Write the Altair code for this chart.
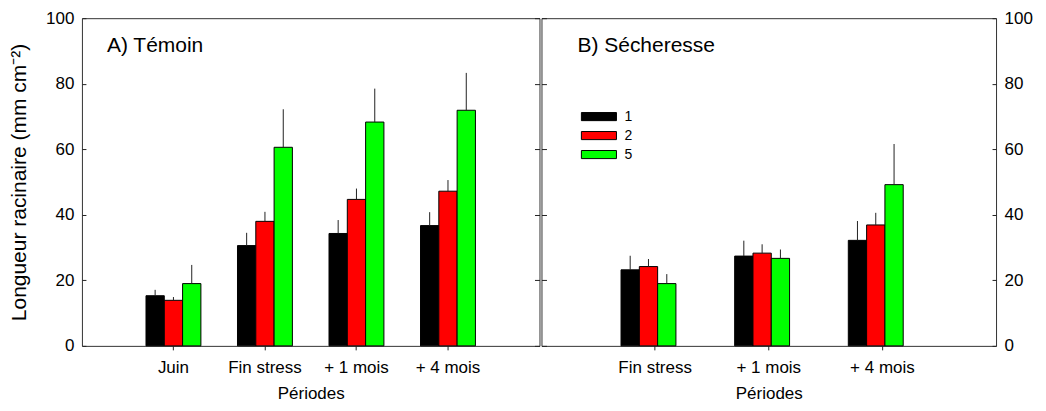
import altair as alt
import pandas as pd

# ---------------- data ----------------
groups = ["1", "2", "5"]
group_colors = ["#000000", "#ff0000", "#00ff00"]

periods_A = ["Juin", "Fin stress", "+ 1 mois", "+ 4 mois"]
A_mean_1 = [15.3, 30.6, 34.3, 36.7]
A_mean_2 = [13.9, 38.0, 44.7, 47.2]
A_mean_5 = [19.0, 60.6, 68.3, 71.9]
A_se_1 = [1.8, 3.9, 4.1, 4.1]
A_se_2 = [1.0, 2.9, 3.3, 3.4]
A_se_5 = [5.7, 11.6, 10.2, 11.4]

periods_B = ["Fin stress", "+ 1 mois", "+ 4 mois"]
B_mean_1 = [23.2, 27.4, 32.2]
B_mean_2 = [24.2, 28.3, 36.9]
B_mean_5 = [19.0, 26.7, 49.2]
B_se_1 = [4.3, 4.7, 5.9]
B_se_2 = [2.3, 2.7, 3.7]
B_se_5 = [2.9, 2.7, 12.4]

panel_titles = ["A) Témoin", "B) Sécheresse"]
y_title = "Longueur racinaire (mm cm⁻²)"
x_title = "Périodes"
y_ticks = [0, 20, 40, 60, 80, 100]

FONT = "Liberation Sans"


def make_frame(periods, means, ses):
    rows = []
    for g, m, s in zip(groups, means, ses):
        for p, mv, sv in zip(periods, m, s):
            rows.append({"periode": p, "groupe": g, "moyenne": mv, "haut": mv + sv})
    return pd.DataFrame(rows)


df_A = make_frame(periods_A, [A_mean_1, A_mean_2, A_mean_5], [A_se_1, A_se_2, A_se_5])
df_B = make_frame(periods_B, [B_mean_1, B_mean_2, B_mean_5], [B_se_1, B_se_2, B_se_5])

yscale = alt.Scale(domain=[0, 100], nice=False, zero=True)


def panel(df, periods, width, title, title_dx, main_orient, second_orient, ytitle, legend):
    x = alt.X(
        "periode:N",
        sort=periods,
        scale=alt.Scale(domain=periods, paddingInner=0.4, paddingOuter=0.7),
        axis=alt.Axis(title=x_title, labelAngle=0, tickSize=4, labelPadding=10,
                      titlePadding=10, domain=False, labelFontSize=17, titleFontSize=17,
                      titleFontWeight="normal"),
    )
    xo = alt.XOffset("groupe:N", sort=groups,
                     scale=alt.Scale(domain=groups, paddingInner=0, paddingOuter=0))
    main_axis = alt.Axis(orient=main_orient, values=y_ticks, tickSize=4, offset=-4,
                         domain=False, labelPadding=8, grid=False, labelFontSize=17,
                         title=ytitle, titleFontSize=21, titleFontWeight="normal",
                         titlePadding=16)
    second_axis = alt.Axis(orient=second_orient, values=y_ticks, tickSize=5, offset=-5,
                           domain=False, labels=False, grid=False, title=None)
    bars = alt.Chart(df).mark_bar(stroke="black", strokeWidth=1).encode(
        x=x,
        xOffset=xo,
        y=alt.Y("moyenne:Q", scale=yscale, axis=main_axis),
        color=alt.Color("groupe:N", sort=groups,
                        scale=alt.Scale(domain=groups, range=group_colors),
                        legend=legend),
    )
    err = alt.Chart(df).mark_rule(color="#222222", strokeWidth=1).encode(
        x=x,
        xOffset=xo,
        y=alt.Y("moyenne:Q", scale=yscale, axis=second_axis),
        y2="haut:Q",
    )
    label = alt.Chart(pd.DataFrame({"t": [title]})).mark_text(
        align="left", baseline="alphabetic", fontSize=21, font=FONT, color="black"
    ).encode(x=alt.value(title_dx), y=alt.value(34), text="t:N")
    return alt.layer(bars, err, label).resolve_axis(y="independent").properties(
        width=width, height=328)


legend_B = alt.Legend(
    orient="none", legendX=48, legendY=89, title=None,
    symbolType="M-1.95,-0.45h3.9v0.9h-3.9z", symbolSize=324,
    symbolStrokeColor="black", symbolStrokeWidth=1, symbolOpacity=1,
    labelFontSize=14, labelOffset=16, padding=0, rowPadding=2, labelFont=FONT,
    labelColor="black",
)

left = panel(df_A, periods_A, 458, panel_titles[0], 25, "left", "right", y_title, None)
right = panel(df_B, periods_B, 455, panel_titles[1], 36, "right", "left", None, legend_B)

chart = (
    alt.hconcat(left, right, spacing=0)
    .resolve_scale(color="independent")
    .properties(padding={"left": 0, "top": 0, "right": 5, "bottom": 3})
    .configure(font=FONT)
    .configure_view(stroke="#333333", strokeWidth=1)
    .configure_axis(labelColor="black", titleColor="black", tickColor="#222222",
                    labelFont=FONT, titleFont=FONT)
)

chart.save("out.html", embed_options={"renderer": "svg", "actions": False})
